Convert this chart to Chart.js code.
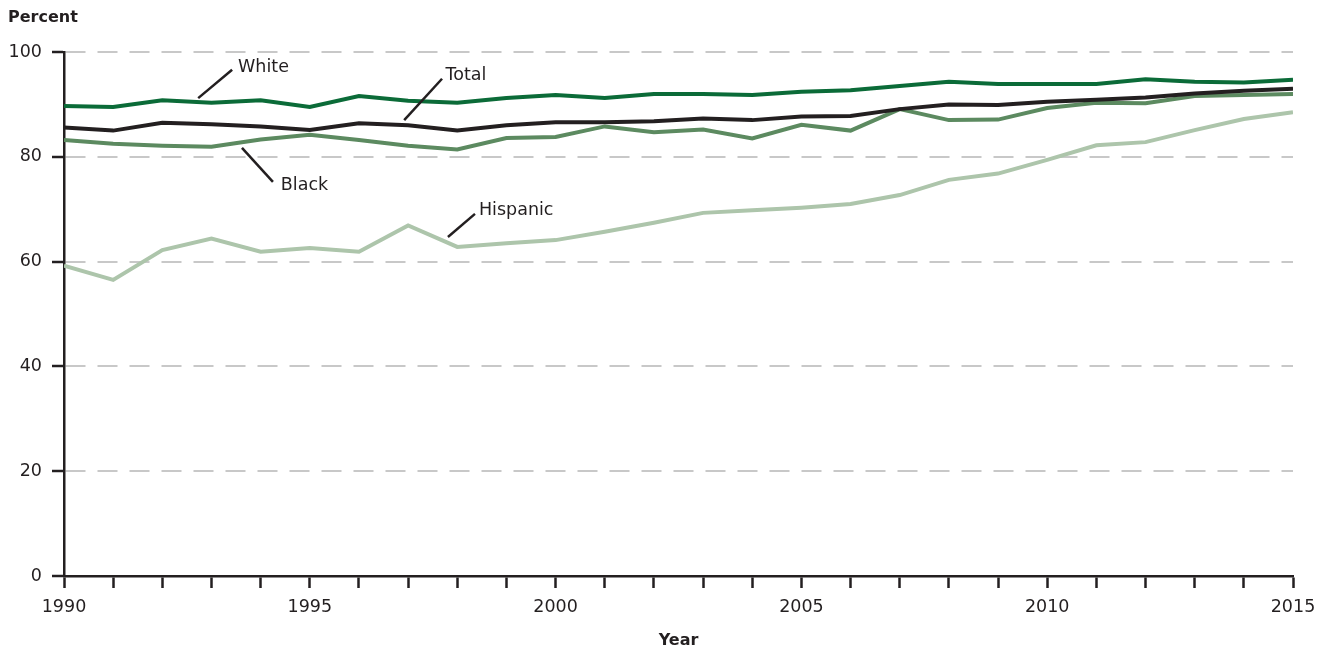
<!DOCTYPE html>
<html>
<head>
<meta charset="utf-8">
<title>Percent by year</title>
<script src="https://cdn.jsdelivr.net/npm/chart.js@4.4.1/dist/chart.umd.min.js"></script>
<style>
  html, body { margin: 0; padding: 0; background: #fff; }
  #wrap { width: 1326px; height: 653px; }
</style>
</head>
<body>
<div id="wrap"><canvas id="lineChart" width="1326" height="653"></canvas></div>
<script>
const years = [1990, 1991, 1992, 1993, 1994, 1995, 1996, 1997, 1998, 1999, 2000, 2001, 2002,
  2003, 2004, 2005, 2006, 2007, 2008, 2009, 2010, 2011, 2012, 2013, 2014, 2015];

const total = [85.6, 85.0, 86.5, 86.2, 85.8, 85.1, 86.4, 86.0, 85.0, 86.0, 86.6, 86.6, 86.8,
  87.3, 87.0, 87.7, 87.8, 89.1, 90.0, 89.9, 90.5, 90.9, 91.3, 92.1, 92.6, 93.0];
const white = [89.7, 89.5, 90.8, 90.3, 90.8, 89.5, 91.6, 90.7, 90.3, 91.2, 91.8, 91.2, 92.0,
  92.0, 91.8, 92.4, 92.7, 93.5, 94.3, 93.9, 93.9, 93.9, 94.8, 94.3, 94.2, 94.7];
const black = [83.2, 82.5, 82.1, 81.9, 83.3, 84.2, 83.2, 82.1, 81.4, 83.6, 83.8, 85.8, 84.7,
  85.2, 83.5, 86.1, 85.0, 89.1, 87.0, 87.1, 89.3, 90.3, 90.2, 91.6, 91.8, 92.0];
const hispanic = [59.2, 56.5, 62.2, 64.4, 61.9, 62.6, 61.9, 66.9, 62.8, 63.5, 64.1, 65.7, 67.4,
  69.3, 69.8, 70.3, 71.0, 72.7, 75.6, 76.8, 79.4, 82.2, 82.8, 85.1, 87.2, 88.5];

const yTicks = [0, 20, 40, 60, 80, 100];

const ink = "#231f20";

// direct labels with their leader lines, in data units (year, percent)
const callouts = [
  { text: "White",    from: [1992.73, 91.2], to: [1993.42, 96.6], at: [1993.54, 97.0] },
  { text: "Total",    from: [1996.92, 87.0], to: [1997.69, 94.9], at: [1997.76, 95.6] },
  { text: "Black",    from: [1993.62, 81.7], to: [1994.25, 75.2], at: [1994.41, 74.6] },
  { text: "Hispanic", from: [1997.81, 64.7], to: [1998.36, 69.1], at: [1998.44, 69.7] }
];

const calloutPlugin = {
  id: "callouts",
  afterDatasetsDraw(chart) {
    const { ctx, scales: { x, y } } = chart;
    ctx.save();
    ctx.strokeStyle = ink;
    ctx.lineWidth = 2.5;
    ctx.fillStyle = ink;
    ctx.font = "17.5px 'DejaVu Sans', sans-serif";
    ctx.textBaseline = "middle";
    ctx.textAlign = "left";
    callouts.forEach(function (c) {
      ctx.beginPath();
      ctx.moveTo(x.getPixelForValue(c.from[0]), y.getPixelForValue(c.from[1]));
      ctx.lineTo(x.getPixelForValue(c.to[0]), y.getPixelForValue(c.to[1]));
      ctx.stroke();
      ctx.fillText(c.text, x.getPixelForValue(c.at[0]), y.getPixelForValue(c.at[1]));
    });
    ctx.restore();
  }
};

function series(label, values, color) {
  return {
    label: label,
    data: years.map((yr, i) => ({ x: yr, y: values[i] })),
    borderColor: color,
    backgroundColor: color,
    borderWidth: 4,
    pointRadius: 0,
    tension: 0,
    fill: false
  };
}

Chart.defaults.font.family = "'DejaVu Sans', sans-serif";
Chart.defaults.color = ink;

const ctx = document.getElementById("lineChart").getContext("2d");

window.lineChart = new Chart(ctx, {
  type: "line",
  data: {
    datasets: [
      series("Total", total, "#231f20"),
      series("White", white, "#0b6b38"),
      series("Black", black, "#5c8a60"),
      series("Hispanic", hispanic, "#adc5ab")
    ]
  },
  options: {
    responsive: false,
    animation: false,
    layout: { padding: { left: 8, right: 33, top: 0, bottom: 0 } },
    plugins: {
      legend: { display: false },
      tooltip: { enabled: false },
      title: {
        display: true,
        text: "Percent",
        align: "start",
        color: ink,
        font: { size: 16, weight: "bold" },
        padding: { top: 8, bottom: 24.8 }
      }
    },
    scales: {
      x: {
        type: "linear",
        min: years[0],
        max: years[years.length - 1],
        afterFit: function (scale) { scale.height = 77; },
        ticks: {
          stepSize: 1,
          autoSkip: false,
          maxRotation: 0,
          padding: 9,
          color: ink,
          font: { size: 17.5 },
          callback: function (v) { return v % 5 === 0 ? String(v) : ""; }
        },
        grid: {
          drawOnChartArea: false,
          drawTicks: true,
          tickLength: 12,
          tickWidth: 2.5,
          tickColor: ink
        },
        border: { color: ink, width: 2.5 },
        title: {
          display: true,
          text: "Year",
          color: ink,
          font: { size: 16, weight: "bold" },
          padding: { top: 0, bottom: 3 }
        }
      },
      y: {
        min: yTicks[0],
        max: yTicks[yTicks.length - 1],
        afterFit: function (scale) { scale.width = 56; },
        afterBuildTicks: function (scale) {
          scale.ticks = yTicks.map(v => ({ value: v }));
        },
        ticks: {
          padding: 10,
          color: ink,
          font: { size: 17.5 }
        },
        grid: {
          color: function (c) { return c.tick && c.tick.value === 0 ? "rgba(0,0,0,0)" : "#c8c8c8"; },
          lineWidth: 2,
          tickLength: 12,
          tickWidth: 2.5,
          tickColor: ink
        },
        border: { color: ink, width: 2.5, dash: [20, 12] }
      }
    }
  },
  plugins: [calloutPlugin]
});
</script>
</body>
</html>
